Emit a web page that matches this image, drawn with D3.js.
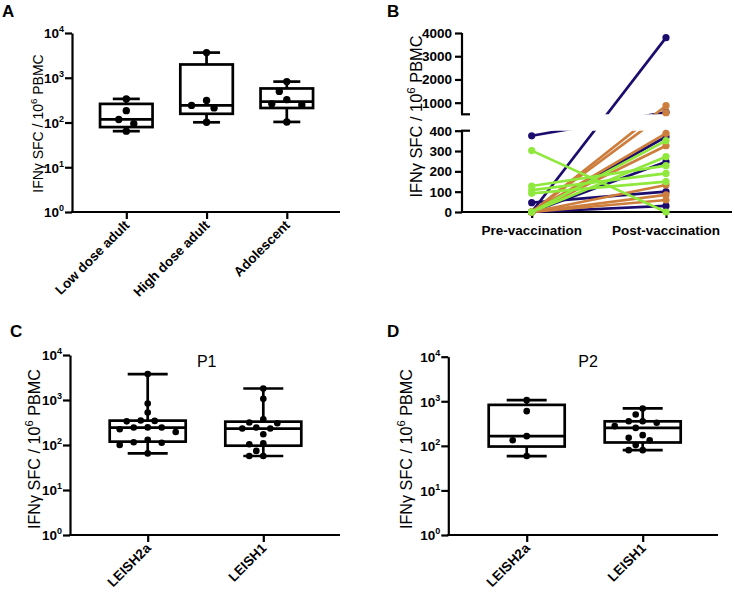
<!DOCTYPE html>
<html><head><meta charset="utf-8">
<script src="https://cdn.jsdelivr.net/npm/d3@7"></script>
<style>
body{margin:0;background:#fff;}
svg{display:block;font-family:Arial,"Liberation Sans",Helvetica,sans-serif;}
</style></head><body>
<svg id="chart" width="735" height="593"></svg>
<script>
// ---------- DATA ----------
// Panel A
const groupsA = ["Low dose adult", "High dose adult", "Adolescent"];
const lowDoseAdult = [337, 184, 117, 94, 64];
const highDoseAdult = [3650, 309, 241, 212, 101];
const adolescent = [820, 495, 324, 261, 247, 103];
// Panel B
const timepoints = ["Pre-vaccination", "Post-vaccination"];
const navyPre = [375, 0, 0, 0, 46, 0];
const navyPost = [590, 3800, 370, 247, 100, 30];
const orangePre = [0, 0, 0, 0, 0, 0, 0];
const orangePost = [870, 570, 387, 326, 133, 84, 59];
const greenPre = [302, 128, 108, 92, 0, 0];
const greenPost = [0, 228, 190, 149, 351, 272];
const ticksBTop = [1000, 2000, 3000, 4000];
const ticksBBottom = [0, 100, 200, 300, 400];
// Panels C / D
const peptides = ["LEISH2a", "LEISH1"];
const p1Leish2a = [3760, 835, 526, 350, 343, 335, 246, 244, 244, 224, 195, 130, 115, 112, 100, 65];
const p1Leish1 = [1800, 1070, 373, 316, 305, 244, 232, 232, 173, 109, 104, 74, 57, 57];
const p2Leish2a = [1060, 600, 165, 134, 59];
const p2Leish1 = [690, 505, 355, 355, 330, 277, 253, 174, 151, 134, 104, 80, 80];
const logTicks = [1, 10, 100, 1000, 10000];

// ---------- HELPERS ----------
const svg = d3.select("#chart");
const AX_W = 2.2;

function quant(sorted, p) {
  const n = sorted.length, pos = p * (n + 1);
  if (pos <= 1) return sorted[0];
  if (pos >= n) return sorted[n - 1];
  const lo = Math.floor(pos), f = pos - lo;
  return sorted[lo - 1] + f * (sorted[lo] - sorted[lo - 1]);
}

function swarm(values, y, cx, minDist, step) {
  const placed = [];
  const sorted = values.slice().sort((a, b) => b - a);
  for (const v of sorted) {
    const py = y(v);
    let px = cx;
    for (let i = 0; i < 60; i++) {
      const k = Math.ceil(i / 2);
      const off = i === 0 ? 0 : (i % 2 === 1 ? -k * step : k * step);
      px = cx + off;
      if (placed.every(p => Math.hypot(p.x - px, p.y - py) >= minDist)) break;
    }
    placed.push({ v, x: px, y: py });
  }
  return placed;
}

function yLabel(g, x, y, fs) {
  const t = g.append("text")
    .attr("transform", `translate(${x},${y}) rotate(-90)`)
    .attr("text-anchor", "middle")
    .attr("font-size", fs);
  t.append("tspan").text("IFNγ SFC / 10");
  t.append("tspan").attr("dy", -0.4 * fs).attr("font-size", fs * 0.7).text("6");
  t.append("tspan").attr("dy", 0.4 * fs).text(" PBMC");
}

function panelLetter(x, y, s) {
  svg.append("text").attr("x", x).attr("y", y).attr("font-size", 17)
    .attr("font-weight", "bold").text(s);
}

function logPanel(o) {
  const g = svg.append("g");
  const y = d3.scaleLog().domain([1, 1e4]).range(o.yRange);
  const x = d3.scalePoint().domain(o.cats).range(o.xRange);
  const y0 = o.yRange[0];
  // y axis
  const ya = g.append("g").attr("transform", `translate(${o.axisX},0)`)
    .call(d3.axisLeft(y).tickValues(logTicks).tickSize(7).tickSizeOuter(0).tickFormat(() => ""));
  ya.selectAll("path,line").attr("stroke", "#000").attr("stroke-width", AX_W);
  logTicks.forEach(t => {
    const tx = g.append("text").attr("x", o.axisX - 8).attr("y", y(t) + 5.3)
      .attr("text-anchor", "end").attr("font-weight", "bold").attr("font-size", 13.5);
    tx.append("tspan").text("10");
    tx.append("tspan").attr("dy", -6).attr("font-size", 9).text(String(Math.round(Math.log10(t))));
  });
  // x axis
  const xa = g.append("g").attr("transform", `translate(0,${y0})`)
    .call(d3.axisBottom(x).tickSize(7).tickSizeOuter(0).tickFormat(() => ""));
  xa.select(".domain").remove();
  xa.selectAll("line").attr("stroke", "#000").attr("stroke-width", AX_W);
  g.append("line").attr("x1", o.axisX - AX_W / 2).attr("x2", o.xEnd).attr("y1", y0).attr("y2", y0)
    .attr("stroke", "#000").attr("stroke-width", AX_W);
  o.cats.forEach(c => {
    g.append("text").attr("transform", `translate(${x(c) + 4},${y0 + 14}) rotate(-45)`)
      .attr("text-anchor", "end").attr("font-weight", "bold").attr("font-size", 13.5).text(c);
  });
  // boxes
  o.cats.forEach((c, i) => {
    const vals = o.groups[i].slice().sort((a, b) => a - b);
    const mn = vals[0], mx = vals[vals.length - 1];
    const q1 = quant(vals, 0.25), md = quant(vals, 0.5), q3 = quant(vals, 0.75);
    const cx = x(c);
    const bg = g.append("g").attr("stroke", "#000").attr("stroke-width", 2.7).attr("fill", "none");
    bg.append("rect").attr("x", cx - o.boxW / 2).attr("width", o.boxW)
      .attr("y", y(q3)).attr("height", y(q1) - y(q3)).attr("fill", "#fff");
    bg.append("line").attr("x1", cx - o.boxW / 2).attr("x2", cx + o.boxW / 2).attr("y1", y(md)).attr("y2", y(md));
    bg.append("line").attr("x1", cx).attr("x2", cx).attr("y1", y(q3)).attr("y2", y(mx));
    bg.append("line").attr("x1", cx).attr("x2", cx).attr("y1", y(q1)).attr("y2", y(mn));
    bg.append("line").attr("x1", cx - o.capW / 2).attr("x2", cx + o.capW / 2).attr("y1", y(mx)).attr("y2", y(mx));
    bg.append("line").attr("x1", cx - o.capW / 2).attr("x2", cx + o.capW / 2).attr("y1", y(mn)).attr("y2", y(mn));
    const pts = swarm(o.groups[i], y, cx, o.minDist, o.step);
    g.append("g").selectAll("circle").data(pts).join("circle")
      .attr("cx", d => d.x).attr("cy", d => d.y).attr("r", o.r).attr("fill", "#000");
  });
  yLabel(g, o.label[0], o.label[1], o.label[2]);
  if (o.title) {
    g.append("text").attr("x", o.title[1]).attr("y", o.title[2]).attr("text-anchor", "middle")
      .attr("font-size", 16).text(o.title[0]);
  }
}

// ---------- PANEL A ----------
panelLetter(2, 17, "A");
logPanel({
  yRange: [212, 33], xRange: [126.3, 286.8], cats: groupsA, axisX: 72, xEnd: 340,
  groups: [lowDoseAdult, highDoseAdult, adolescent],
  boxW: 52.5, capW: 27, r: 3.7, minDist: 10, step: 7.5, label: [43, 123.5, 14]
});

// ---------- PANEL C ----------
panelLetter(10, 337, "C");
logPanel({
  yRange: [535, 355], xRange: [147.7, 263.3], cats: peptides, axisX: 70, xEnd: 340,
  groups: [p1Leish2a, p1Leish1],
  boxW: 76, capW: 40, r: 3.3, minDist: 8.6, step: 7, label: [39.5, 449, 16.2], title: ["P1", 206.7, 366.7]
});

// ---------- PANEL D ----------
panelLetter(387, 337, "D");
logPanel({
  yRange: [535, 356.7], xRange: [526.7, 642.7], cats: peptides, axisX: 448.3, xEnd: 718,
  groups: [p2Leish2a, p2Leish1],
  boxW: 76, capW: 40, r: 3.3, minDist: 8.6, step: 7, label: [411.5, 449, 16.2], title: ["P2", 588, 366.7]
});

// ---------- PANEL B ----------
panelLetter(387, 17, "B");
(function () {
  const g = svg.append("g");
  const axisX = 462, xEnd = 732;
  const yB = d3.scaleLinear().domain([0, 400, 500, 4000]).range([212, 130.7, 114.3, 33]);
  const xB = d3.scalePoint().domain(timepoints).range([531.7, 666]);
  const defs = svg.append("defs");
  defs.append("clipPath").attr("id", "clipTop").append("rect")
    .attr("x", axisX).attr("y", 20).attr("width", 280).attr("height", yB(500) - 20);
  defs.append("clipPath").attr("id", "clipBot").append("rect")
    .attr("x", axisX).attr("y", yB(400)).attr("width", 280).attr("height", 218 - yB(400));

  // axes
  const fmt = d3.format("d");
  [[ticksBTop, 500, 4000], [ticksBBottom, 0, 400]].forEach(([tv, a, b]) => {
    const ax = g.append("g").attr("transform", `translate(${axisX},0)`)
      .call(d3.axisLeft(yB).tickValues(tv).tickSize(7).tickSizeOuter(0).tickFormat(fmt));
    ax.select(".domain").remove();
    ax.selectAll("line").attr("stroke", "#000").attr("stroke-width", AX_W);
    ax.selectAll("text").attr("font-size", 13.5).attr("font-weight", "bold")
      .attr("font-family", "Arial,'Liberation Sans',sans-serif").attr("fill", "#000");
    g.append("line").attr("x1", axisX).attr("x2", axisX).attr("y1", yB(a)).attr("y2", yB(b))
      .attr("stroke", "#000").attr("stroke-width", AX_W);
  });
  [400, 500].forEach(v => {
    g.append("line").attr("x1", axisX - 1).attr("x2", axisX + 8).attr("y1", yB(v)).attr("y2", yB(v))
      .attr("stroke", "#000").attr("stroke-width", AX_W);
  });
  const xa = g.append("g").attr("transform", `translate(0,212)`)
    .call(d3.axisBottom(xB).tickSize(6).tickSizeOuter(0).tickFormat(() => ""));
  xa.select(".domain").remove();
  xa.selectAll("line").attr("stroke", "#000").attr("stroke-width", AX_W);
  g.append("line").attr("x1", axisX - AX_W / 2).attr("x2", xEnd).attr("y1", 212).attr("y2", 212)
    .attr("stroke", "#000").attr("stroke-width", AX_W);
  timepoints.forEach(t => {
    g.append("text").attr("x", xB(t)).attr("y", 235).attr("text-anchor", "middle")
      .attr("font-size", 13.5).attr("font-weight", "bold").text(t);
  });

  const series = [
    { color: "#1c0c6e", pre: navyPre, post: navyPost },
    { color: "#cd7d3c", pre: orangePre, post: orangePost },
    { color: "#8fe83c", pre: greenPre, post: greenPost }
  ];
  series.forEach(s => {
    const pairs = s.pre.map((p, i) => [[timepoints[0], p], [timepoints[1], s.post[i]]]);
    const line = d3.line().x(d => xB(d[0])).y(d => yB(d[1]));
    ["clipTop", "clipBot"].forEach(cid => {
      g.append("g").attr("clip-path", `url(#${cid})`).selectAll("path").data(pairs).join("path")
        .attr("d", line).attr("fill", "none").attr("stroke", s.color).attr("stroke-width", 2.7);
    });
    const pts = pairs.flat();
    g.append("g").selectAll("circle").data(pts).join("circle")
      .attr("cx", d => xB(d[0])).attr("cy", d => yB(d[1])).attr("r", 3.6).attr("fill", s.color);
  });
  yLabel(g, 421.5, 116.5, 16.4);
})();
</script>
</body></html>
